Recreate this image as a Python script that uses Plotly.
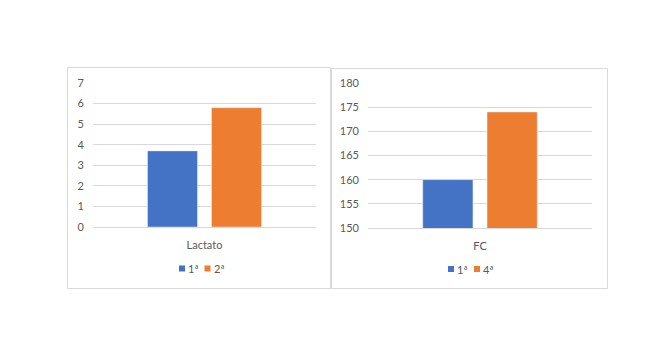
import plotly.graph_objects as go

W, H = 660, 339

# Data
lact_cat = ["Lactato"]
lact_first = [3.7]
lact_second = [5.8]
lact_names = ["1ª", "2ª"]
lact_ticks = [0, 1, 2, 3, 4, 5, 6, 7]

fc_cat = ["FC"]
fc_first = [160]
fc_fourth = [174]
fc_names = ["1ª", "4ª"]
fc_ticks = [150, 155, 160, 165, 170, 175, 180]

BLUE = "#4472C4"
ORANGE = "#ED7D31"
GRID = "#d9d9d9"
TXT = "#595959"
FONT = "Lato"


def px_x(v):
    return v / W


def px_y(v):
    return 1 - v / H


fig = go.Figure()

fig.add_trace(go.Bar(x=lact_cat, y=lact_first, name=lact_names[0], marker_color=BLUE,
                     xaxis="x", yaxis="y"))
fig.add_trace(go.Bar(x=lact_cat, y=lact_second, name=lact_names[1], marker_color=ORANGE,
                     xaxis="x", yaxis="y"))
fig.add_trace(go.Bar(x=fc_cat, y=fc_first, name=fc_names[0], marker_color=BLUE,
                     xaxis="x2", yaxis="y2"))
fig.add_trace(go.Bar(x=fc_cat, y=fc_fourth, name=fc_names[1], marker_color=ORANGE,
                     xaxis="x2", yaxis="y2"))

axis_font = dict(family=FONT, size=11, color=TXT)
leg_font = dict(family=FONT, size=11, color=TXT)

# Chart frames
shapes = [
    dict(type="rect", xref="paper", yref="paper",
         x0=px_x(67.5), x1=px_x(330.5), y0=px_y(288.5), y1=px_y(67.5),
         line=dict(color=GRID, width=1)),
    dict(type="rect", xref="paper", yref="paper",
         x0=px_x(331.5), x1=px_x(607.5), y0=px_y(288.5), y1=px_y(68.5),
         line=dict(color=GRID, width=1)),
]
annotations = []
# Compact legend keys: small square + label under each chart
legend_items = [
    (lact_names[0], BLUE, 179, 268.5),
    (lact_names[1], ORANGE, 204.5, 268.5),
    (fc_names[0], BLUE, 448, 269),
    (fc_names[1], ORANGE, 474, 269),
]
for name, col, x0, yc in legend_items:
    shapes.append(dict(type="rect", xref="paper", yref="paper",
                       x0=px_x(x0), x1=px_x(x0 + 6), y0=px_y(yc + 3), y1=px_y(yc - 3),
                       fillcolor=col, line=dict(width=0)))
    annotations.append(dict(xref="paper", yref="paper", x=px_x(x0 + 7), y=px_y(yc),
                            xanchor="left", yanchor="middle", text=name,
                            showarrow=False, font=leg_font))

fig.update_layout(
    width=W, height=H,
    margin=dict(l=0, r=0, t=0, b=0, autoexpand=False),
    paper_bgcolor="white", plot_bgcolor="white",
    showlegend=False,
    barmode="group", bargap=0.426, bargroupgap=0.219,
    font=dict(family=FONT, color=TXT),
    xaxis=dict(domain=[px_x(93), px_x(316)], anchor="y", showgrid=False,
               showline=True, linecolor=GRID, linewidth=1, ticks="",
               tickfont=axis_font, ticklabelstandoff=8),
    yaxis=dict(domain=[px_y(227), px_y(83)], anchor="x", range=[0, 7],
               tickvals=lact_ticks, showgrid=True, gridcolor=GRID, gridwidth=1,
               zeroline=False, showline=False, tickfont=axis_font, ticks="",
               ticklabelstandoff=8),
    xaxis2=dict(domain=[px_x(368), px_x(592)], anchor="y2", showgrid=False,
                showline=True, linecolor=GRID, linewidth=1, ticks="",
                tickfont=axis_font, ticklabelstandoff=8),
    yaxis2=dict(domain=[px_y(228), px_y(83)], anchor="x2", range=[150, 180],
                tickvals=fc_ticks, showgrid=True, gridcolor=GRID, gridwidth=1,
                zeroline=False, showline=False, tickfont=axis_font, ticks="",
                ticklabelstandoff=8),
    shapes=shapes,
    annotations=annotations,
)

fig.write_html("out.html")
